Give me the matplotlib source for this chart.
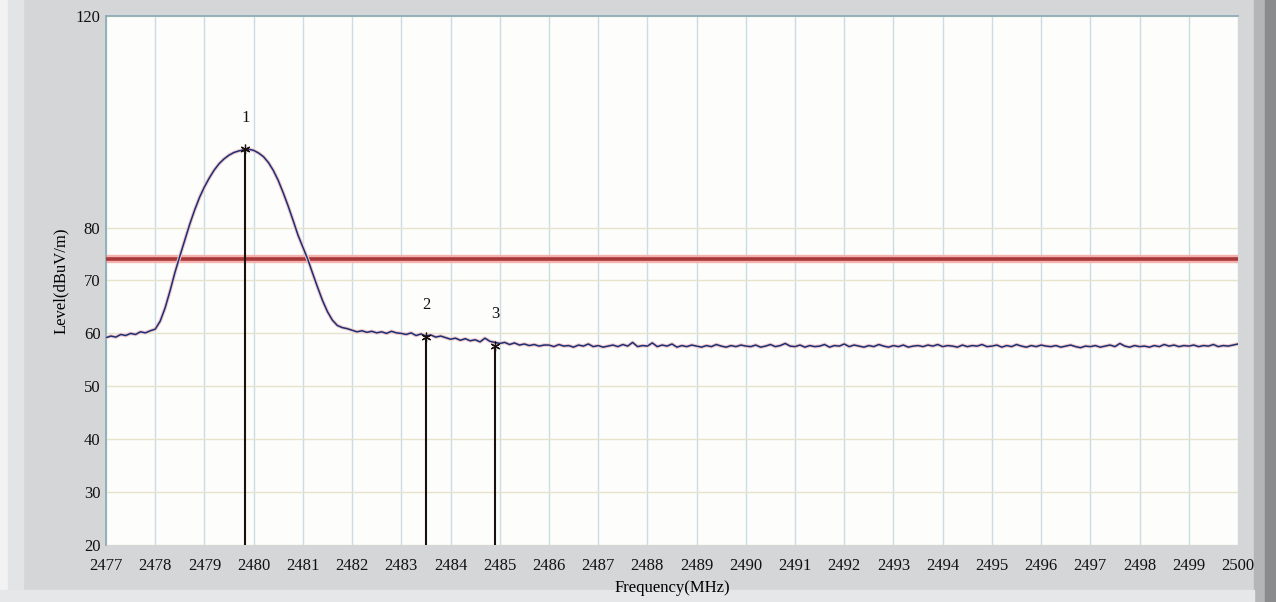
import numpy as np
import matplotlib.pyplot as plt
from matplotlib.patches import Rectangle

# Sweep levels (dBuV/m), one row per MHz, 0.1 MHz steps from 2477 to 2500
level = [
    59.2, 59.5, 59.3, 59.8, 59.6, 60.0, 59.8, 60.3, 60.1, 60.5,  # 2477
    60.8, 62.3, 64.8, 68.0, 71.5, 74.6, 77.6, 80.6, 83.3, 85.7,  # 2478
    87.7, 89.4, 90.9, 92.1, 93.0, 93.7, 94.2, 94.5, 94.7, 94.8,  # 2479
    94.6, 94.1, 93.4, 92.3, 90.8, 88.9, 86.6, 84.1, 81.4, 78.6,  # 2480
    76.3, 74.0, 71.3, 68.7, 66.2, 64.1, 62.5, 61.5, 61.1, 60.9,  # 2481
    60.6, 60.3, 60.5, 60.2, 60.4, 60.1, 60.3, 60.0, 60.4, 60.1,  # 2482
    60.0, 59.8, 60.1, 59.6, 59.9, 59.5, 59.7, 59.3, 59.5, 59.2,  # 2483
    58.9, 59.1, 58.7, 59.0, 58.6, 58.8, 58.4, 59.1, 58.5, 58.3,  # 2484
    58.1, 58.3, 57.9, 58.2, 57.8, 58.0, 57.7, 57.9, 57.6, 57.8,  # 2485
    57.8, 57.5, 57.9, 57.6, 57.7, 57.4, 57.8, 57.6, 58.0, 57.5,  # 2486
    57.7, 57.4, 57.6, 57.8, 57.5, 57.9, 57.6, 58.3, 57.5, 57.7,  # 2487
    57.6, 58.2, 57.5, 57.8, 57.6, 58.0, 57.4, 57.7, 57.5, 57.8,  # 2488
    57.6, 57.4, 57.7, 57.5, 57.9, 57.6, 57.4, 57.7, 57.5, 57.8,  # 2489
    57.6, 57.5, 57.8, 57.4, 57.6, 57.9, 57.5, 57.7, 58.1, 57.6,  # 2490
    57.5, 57.8, 57.4, 57.7, 57.5, 57.6, 57.9, 57.4, 57.7, 57.6,  # 2491
    58.0, 57.5, 57.8, 57.6, 57.4, 57.7, 57.5, 57.9, 57.6, 57.4,  # 2492
    57.7, 57.5, 57.8, 57.4, 57.6, 57.7, 57.5, 57.8, 57.6, 57.9,  # 2493
    57.5, 57.7, 57.6, 57.4, 57.8, 57.5, 57.7, 57.6, 57.9, 57.5,  # 2494
    57.6, 57.8, 57.4, 57.7, 57.5, 57.9, 57.6, 57.4, 57.7, 57.5,  # 2495
    57.8, 57.6, 57.5, 57.7, 57.4, 57.6, 57.8, 57.5, 57.3, 57.6,  # 2496
    57.5, 57.7, 57.4, 57.6, 57.8, 57.5, 58.1, 57.6, 57.4, 57.7,  # 2497
    57.5, 57.6, 57.4, 57.7, 57.5, 57.9, 57.6, 57.8, 57.5, 57.7,  # 2498
    57.6, 57.8, 57.5, 57.7, 57.6, 57.9, 57.5, 57.7, 57.6, 57.8,  # 2499
    58.0,                                                        # 2500
]
freq = np.linspace(2477, 2500, len(level))

# Markers
marker_id = ['1', '2', '3']
marker_freq = [2479.83, 2483.50, 2484.91]
marker_level = [94.8, 59.3, 57.7]

limit = 74.0

x_ticks = list(range(2477, 2501))
y_ticks = [20, 30, 40, 50, 60, 70, 80, 120]

plt.rcParams['font.family'] = ['Liberation Serif', 'DejaVu Serif']

fig = plt.figure(figsize=(12.76, 6.02), dpi=100)
fig.patch.set_facecolor('#d5d6d8')
# window frame bits
frame = [((0, 0), 0.006, 1, '#f2f2f2'),
         ((0.006, 0), 0.012, 1, '#e3e4e5'),
         ((0.983, 0), 0.008, 1, '#b4b5b7'),
         ((0.991, 0), 0.009, 1, '#8a8b8d'),
         ((0, 0), 0.983, 0.02, '#e6e7e8')]
for xy, w, h, c in frame:
    fig.patches.append(Rectangle(xy, w, h, transform=fig.transFigure, color=c, zorder=-1))

ax = fig.add_axes([106/1276, 1 - 545/602, (1238-106)/1276, (545-16)/602])
ax.set_facecolor('#fdfdfc')

ax.set_xlim(2477, 2500)
ax.set_ylim(20, 120)
ax.set_xticks(x_ticks)
ax.set_yticks(y_ticks)
ax.tick_params(axis='x', length=0, labelsize=12, colors='#111111', pad=9)
ax.tick_params(axis='y', length=0, labelsize=12, colors='#111111', pad=4)
ax.grid(axis='x', color='#c9dde2', linewidth=1.0)
ax.grid(axis='y', color='#e6e3cc', linewidth=1.0)
ax.set_axisbelow(True)

for side in ['bottom', 'right']:
    ax.spines[side].set_visible(False)
for side in ['left', 'top']:
    ax.spines[side].set_color('#86a9b6')
    ax.spines[side].set_linewidth(1.2)

# limit line with halo
ax.axhline(limit, color='#f3b2ad', linewidth=6, zorder=2)
ax.axhline(limit, color='#a8393a', linewidth=2.6, zorder=3)

# trace
ax.plot(freq, level, color='#f0c8cc', linewidth=2.6, zorder=3)
ax.plot(freq, level, color='#1b2f72', linewidth=1.1, zorder=4)

# markers
for mid, mf, ml in zip(marker_id, marker_freq, marker_level):
    ax.plot([mf, mf], [20, ml], color='#1a1010', linewidth=1.5, zorder=5)
    ax.plot(mf, ml, marker=(6, 2, 0), markersize=7, color='#1a1010', mew=0.9, zorder=6)
    ax.text(mf, ml + 6, mid, ha='center', va='center', fontsize=12, color='#111111')

ax.set_xlabel('Frequency(MHz)', fontsize=12, labelpad=5)
ax.set_ylabel('Level(dBuV/m)', fontsize=12, labelpad=5)

fig.savefig('out.png', dpi=100, facecolor=fig.get_facecolor())
